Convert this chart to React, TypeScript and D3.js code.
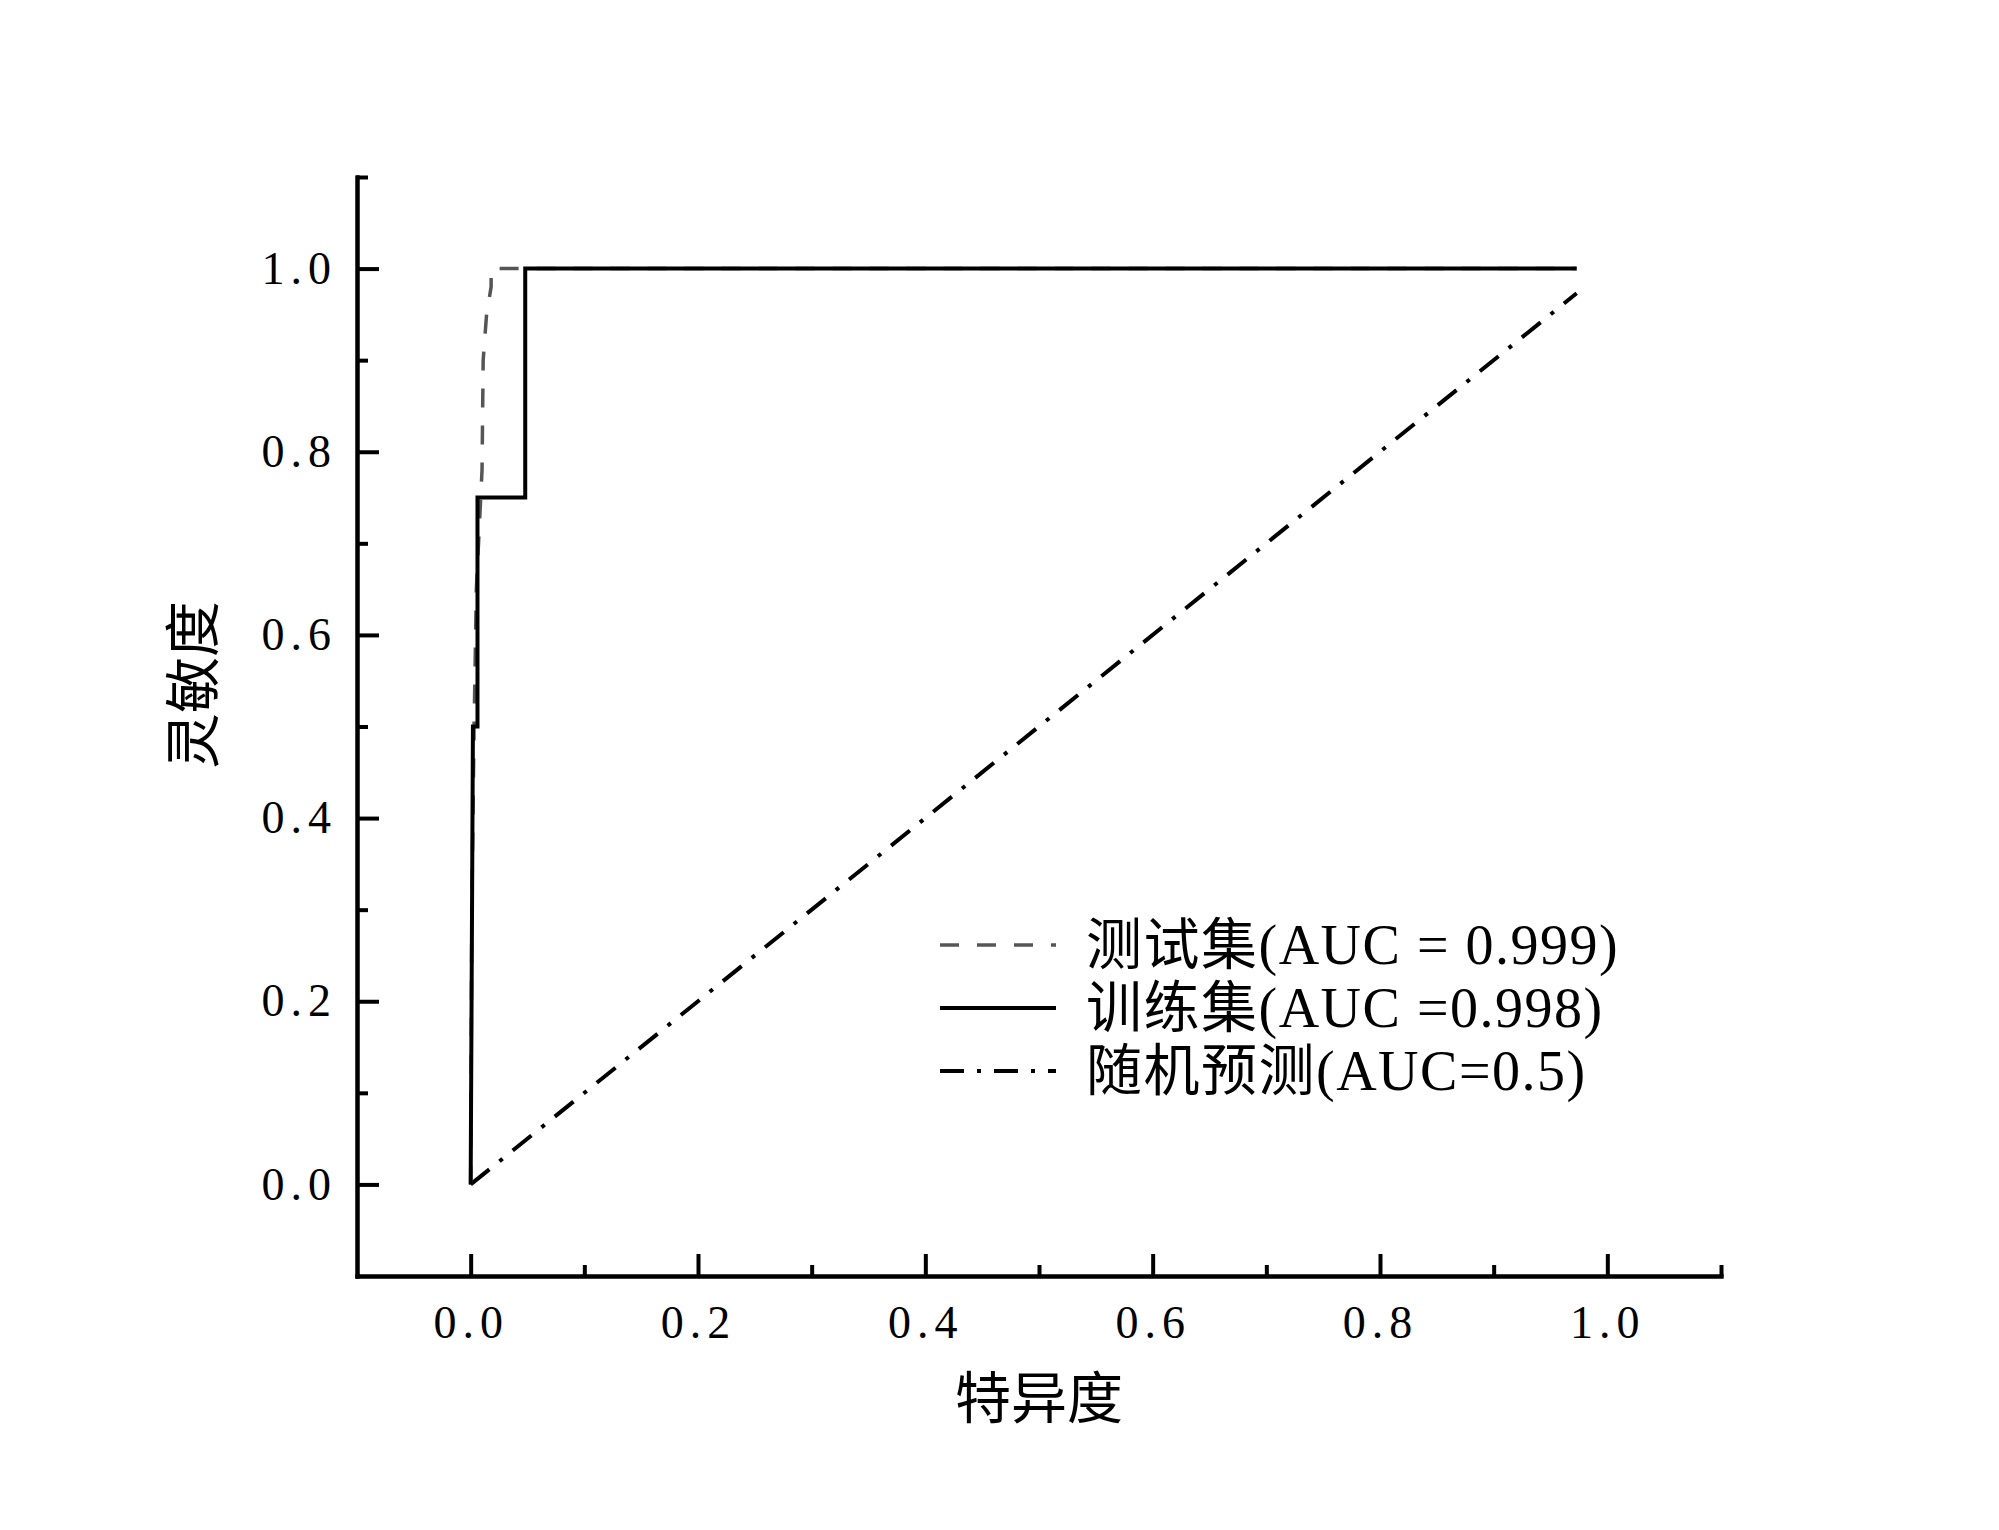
import React, { useEffect, useRef } from 'react';
import * as d3 from 'd3';

// ROC points (false positive rate / true positive rate)
const testFpr = [0, 0.001, 0.003, 0.005, 0.01, 0.011, 0.014, 0.018, 0.018, 0.973];
const testTpr = [0, 0.3, 0.5, 0.65, 0.78, 0.9, 0.95, 0.98, 1.0, 1.0];

const trainFpr = [0, 0.002, 0.006, 0.006, 0.048, 0.048, 0.973];
const trainTpr = [0, 0.5, 0.5, 0.75, 0.75, 1.0, 1.0];

const randFpr = [0, 0.973];
const randTpr = [0, 0.973];

const majorTicks = [0, 0.2, 0.4, 0.6, 0.8, 1.0];
const minorTicks = [0.1, 0.3, 0.5, 0.7, 0.9, 1.1];

const legendLabels = ['测试集(AUC = 0.999)', '训练集(AUC =0.998)', '随机预测(AUC=0.5)'];
const xTitle = '特异度';
const yTitle = '灵敏度';

const LATIN = '"Liberation Serif", "Noto Sans CJK SC", serif';
const CJK = '"Noto Sans CJK SC", sans-serif';

const App = () => {
  const svgRef = useRef(null);

  useEffect(() => {
    const svg = d3.select(svgRef.current);
    svg.selectAll('*').remove();

    const x = d3.scaleLinear().domain([-0.1, 1.1]).range([357, 1721]);
    const y = d3.scaleLinear().domain([-0.1, 1.1]).range([1276, 177]);

    const fmt = d3.format('.1f');

    // axes
    const styleAxis = (g) => {
      g.selectAll('path.domain').attr('stroke', '#000').attr('stroke-width', 4);
      g.selectAll('.tick line').attr('stroke', '#000').attr('stroke-width', 4);
      g.selectAll('.tick text')
        .attr('fill', '#000')
        .style('font-family', LATIN)
        .style('font-size', '46px')
        .style('letter-spacing', '6px');
    };

    svg.append('g')
      .attr('transform', `translate(0,${y(-0.1)})`)
      .call(d3.axisBottom(x).tickValues(minorTicks).tickSize(-11).tickSizeOuter(0).tickFormat(() => ''))
      .call(styleAxis);
    svg.append('g')
      .attr('transform', `translate(0,${y(-0.1)})`)
      .call(d3.axisBottom(x).tickValues(majorTicks).tickSize(-22).tickSizeOuter(0).tickPadding(29).tickFormat(fmt))
      .call(styleAxis);

    svg.append('g')
      .attr('transform', `translate(${x(-0.1)},0)`)
      .call(d3.axisLeft(y).tickValues(minorTicks).tickSize(-11).tickSizeOuter(0).tickFormat(() => ''))
      .call(styleAxis);
    svg.append('g')
      .attr('transform', `translate(${x(-0.1)},0)`)
      .call(d3.axisLeft(y).tickValues(majorTicks).tickSize(-22).tickSizeOuter(0).tickPadding(20).tickFormat(fmt))
      .call(styleAxis);

    svg.selectAll('.domain').attr('stroke-linecap', 'square');

    const line = d3.line().x((d) => x(d[0])).y((d) => y(d[1]));

    const series = [
      { fpr: randFpr, tpr: randTpr, color: '#000', width: 4, dash: '24 13 4 13' },
      { fpr: testFpr, tpr: testTpr, color: '#555', width: 3.5, dash: '19 18' },
      { fpr: trainFpr, tpr: trainTpr, color: '#000', width: 4, dash: null },
    ];

    series.forEach((s) => {
      svg.append('path')
        .datum(d3.zip(s.fpr, s.tpr))
        .attr('d', line)
        .attr('fill', 'none')
        .attr('stroke', s.color)
        .attr('stroke-width', s.width)
        .attr('stroke-dasharray', s.dash);
    });

    // legend
    const legendSeries = [series[1], series[2], series[0]];
    const rowY = d3.scalePoint().domain(legendLabels).range([945, 1071]);
    const legend = svg.append('g');
    legendLabels.forEach((label, i) => {
      const s = legendSeries[i];
      legend.append('line')
        .attr('x1', 940).attr('x2', 1056)
        .attr('y1', rowY(label)).attr('y2', rowY(label))
        .attr('stroke', s.color)
        .attr('stroke-width', s.width)
        .attr('stroke-dasharray', s.dash);
      legend.append('text')
        .attr('x', 1086)
        .attr('y', rowY(label))
        .attr('dominant-baseline', 'central')
        .style('font-family', LATIN)
        .style('font-size', '56px')
        .style('letter-spacing', '1.5px')
        .text(label);
    });

    // axis titles
    svg.append('text')
      .attr('x', 1039)
      .attr('y', 1393)
      .attr('text-anchor', 'middle')
      .attr('dominant-baseline', 'central')
      .style('font-family', CJK)
      .style('font-size', '56px')
      .text(xTitle);

    svg.append('text')
      .attr('transform', 'translate(188,685) rotate(-90)')
      .attr('text-anchor', 'middle')
      .attr('dominant-baseline', 'central')
      .style('font-family', CJK)
      .style('font-size', '56px')
      .text(yTitle);
  }, []);

  return (
    <div style={{ position: 'absolute', left: 0, top: 0, background: '#fff' }}>
      <svg ref={svgRef} width={1999} height={1530} style={{ display: 'block', background: '#fff' }}></svg>
    </div>
  );
};

export default App;
